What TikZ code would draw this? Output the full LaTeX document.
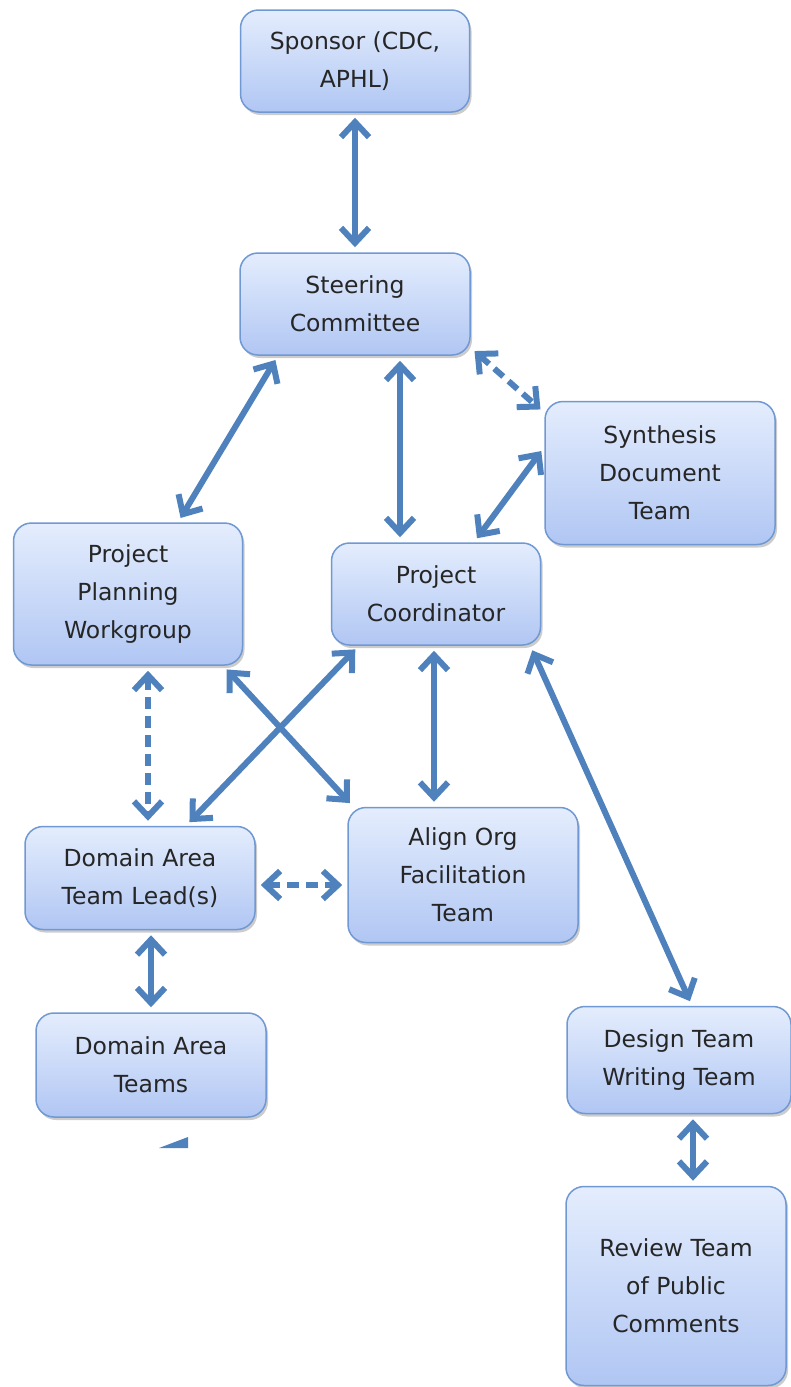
\documentclass[tikz,border=0pt]{standalone}
\usepackage{fontspec}
\setmainfont{DejaVu Sans}
\usetikzlibrary{arrows.meta,shadows}
\definecolor{boxtop}{RGB}{228,237,253}
\definecolor{boxbot}{RGB}{176,198,243}
\definecolor{boxline}{RGB}{112,152,210}
\definecolor{linkblue}{RGB}{79,129,189}

\begin{document}
\begin{tikzpicture}[x=1pt, y=-1pt]
\tikzstyle{every node}=[draw=boxline, line width=1.5pt, rounded corners=18pt,
  top color=boxtop, bottom color=boxbot, align=center,
  font=\fontsize{23.5}{38}\selectfont, text=black!85,
  drop shadow={shadow xshift=2pt, shadow yshift=-3pt, opacity=.4}];
\tikzstyle{link}=[draw=linkblue, line width=6pt, shorten <=5pt, shorten >=5pt,
  {Straight Barb[length=15pt,width=28pt]}-{Straight Barb[length=15pt,width=28pt]}];
\tikzstyle{dlink}=[link, dash pattern=on 12pt off 7pt];
\useasboundingbox (0,0) rectangle (791,1387);
\path (355,61) node[minimum width=229pt, minimum height=102pt] (sponsor) {Sponsor (CDC,\\APHL)};
\path (355,304) node[minimum width=230pt, minimum height=102pt] (steer) {Steering\\Committee};
\path (660,473) node[minimum width=230pt, minimum height=143pt] (synth) {Synthesis\\Document\\Team};
\path (128,594) node[minimum width=229pt, minimum height=142pt] (ppw) {Project\\Planning\\Workgroup};
\path (436,594) node[minimum width=209pt, minimum height=102pt] (pc) {Project\\Coordinator};
\path (140,878) node[minimum width=230pt, minimum height=103pt] (datl) {Domain Area\\Team Lead(s)};
\path (463,875) node[minimum width=230pt, minimum height=135pt] (align) {Align Org\\Facilitation\\Team};
\path (151,1065) node[minimum width=230pt, minimum height=104pt] (dat) {Domain Area\\Teams};
\path (679,1060) node[minimum width=224pt, minimum height=107pt] (design) {Design Team\\Writing Team};
\path (676,1286) node[minimum width=220pt, minimum height=199pt] (review) {Review Team\\of Public\\Comments};
\draw[link] (sponsor.south) -- (steer.north);
\draw[link] ([xshift=-77pt]steer.south) -- ([xshift=50pt]ppw.north);
\draw[link] ([xshift=45pt]steer.south) -- ([xshift=-36pt]pc.north);
\draw[dlink] ([yshift=8pt]steer.south east) -- ([yshift=-12pt]synth.north west);
\draw[link] ([yshift=26pt]synth.west) -- ([xshift=38pt]pc.north);
\draw[dlink] ([xshift=20pt]ppw.south) -- ([xshift=8pt]datl.north);
\draw[link] ([xshift=-20pt]ppw.south east) -- ([xshift=6pt]align.north west);
\draw[link] ([xshift=28pt]pc.south west) -- ([xshift=46pt]datl.north);
\draw[link] ([xshift=-2pt]pc.south) -- ([xshift=-29pt]align.north);
\draw[link] ([xshift=-11pt]pc.south east) -- ([xshift=13pt]design.north);
\draw[dlink] ([yshift=-7pt]datl.east) -- ([yshift=-10pt]align.west);
\draw[link] ([xshift=11pt]datl.south) -- (dat.north);
\draw[link] ([xshift=14pt]design.south) -- ([xshift=17pt]review.north);
\fill[linkblue] (159,1148) -- (188,1137) -- (188,1148) -- cycle;
\end{tikzpicture}
\end{document}
